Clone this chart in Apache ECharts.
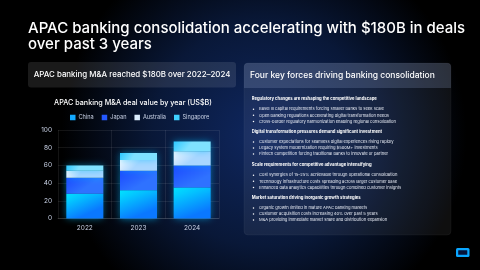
<!DOCTYPE html>
<html><head><meta charset="utf-8">
<script src="https://cdn.jsdelivr.net/npm/echarts@6/dist/echarts.min.js"></script>
<style>html,body{margin:0;padding:0;background:#000}#c{width:480px;height:270px}</style>
</head><body><div id="c"></div>
<script>
var years = ['2022', '2023', '2024'];
var china = [28, 32, 35];
var japan = [18, 22, 25];
var australia = [8, 12, 16];
var singapore = [6, 8, 11];
var seriesNames = ['China', 'Japan', 'Australia', 'Singapore'];
var yTicks = [0, 20, 40, 60, 80, 100];

var titleLines = ['APAC banking consolidation accelerating with $180B in deals', 'over past 3 years'];
var leftHeader = 'APAC banking M&A reached $180B over 2022\u20132024';
var chartTitle = 'APAC banking M&A deal value by year (US$B)';
var rightHeader = 'Four key forces driving banking consolidation';
var sections = [
  'Regulatory changes are reshaping the competitive landscape',
  'Digital transformation pressures demand significant investment',
  'Scale requirements for competitive advantage intensifying',
  'Market saturation driving inorganic growth strategies'
];
var bullets = [
  ['Basel III capital requirements forcing smaller banks to seek scale',
   'Open banking regulations accelerating digital transformation needs',
   'Cross-border regulatory harmonization enabling regional consolidation'],
  ['Customer expectations for seamless digital experiences rising rapidly',
   'Legacy system modernization requiring $500M+ investments',
   'Fintech competition forcing traditional banks to innovate or partner'],
  ['Cost synergies of 15\u201325% achievable through operational consolidation',
   'Technology infrastructure costs spreading across larger customer base',
   'Enhanced data analytics capabilities through combined customer insights'],
  ['Organic growth limited in mature APAC banking markets',
   'Customer acquisition costs increasing 40% over past 5 years',
   'M&A providing immediate market share and distribution expansion']
];

var FF = 'Inter, "Noto Sans", sans-serif';
function lg(c1, c2, x2, y2) {
  return new echarts.graphic.LinearGradient(0, 0, x2, y2, [{offset: 0, color: c1}, {offset: 1, color: c2}]);
}
var colors = [
  lg('#00e8ff', '#0a78ff', 0.3, 1),
  lg('#1a48ff', '#2f72ff', 0.3, 1),
  lg('#f2f9ff', '#a9d6ff', 0.3, 1),
  lg('#2cc8ff', '#7fe2ff', 0.3, 1)
];
var legendColors = ['#12a8ff', '#2458ff', '#dceeff', '#3fd0ff'];
var values = [china, japan, australia, singapore];

var graphics = [];
graphics.push({type: 'text', x: 28, y: 28, style: {text: titleLines[0], fill: '#ffffff', fontSize: 15, fontWeight: 500, fontFamily: FF, verticalAlign: 'middle'}});
graphics.push({type: 'text', x: 28, y: 44, style: {text: titleLines[1], fill: '#ffffff', fontSize: 15, fontWeight: 500, fontFamily: FF, verticalAlign: 'middle'}});
// left header box
graphics.push({type: 'rect', shape: {x: 28, y: 62, width: 208, height: 25.5, r: 3}, style: {fill: 'rgba(255,255,255,0.10)'}});
graphics.push({type: 'text', x: 132, y: 75, style: {text: leftHeader, fill: '#ffffff', fontSize: 7.9, fontWeight: 500, fontFamily: FF, textAlign: 'center', verticalAlign: 'middle'}});
graphics.push({type: 'text', x: 133, y: 103.3, style: {text: chartTitle, fill: '#ffffff', fontSize: 7.2, fontWeight: 500, fontFamily: FF, textAlign: 'center', verticalAlign: 'middle'}});
// right panel
graphics.push({type: 'rect', shape: {x: 244, y: 63, width: 207, height: 172, r: 4}, style: {fill: 'rgba(255,255,255,0.06)', stroke: 'rgba(255,255,255,0.08)', lineWidth: 0.6}});
graphics.push({type: 'rect', shape: {x: 244, y: 63, width: 207, height: 25, r: [4, 4, 0, 0]}, style: {fill: 'rgba(150,170,210,0.22)'}});
graphics.push({type: 'text', x: 250, y: 75.7, style: {text: rightHeader, fill: '#ffffff', fontSize: 8.5, fontWeight: 500, fontFamily: FF, verticalAlign: 'middle'}});
var headY = [99, 131.7, 165, 197.7];
for (var i = 0; i < sections.length; i++) {
  graphics.push({type: 'text', x: 251.7, y: headY[i], style: {text: sections[i], fill: '#ffffff', fontSize: 4.2, fontWeight: 700, fontFamily: FF, verticalAlign: 'middle'}});
  for (var j = 0; j < bullets[i].length; j++) {
    var by = headY[i] + 10.2 + j * 6.1;
    graphics.push({type: 'circle', shape: {cx: 253.5, cy: by, r: 0.75}, style: {fill: '#ffffff'}});
    graphics.push({type: 'text', x: 259, y: by, style: {text: bullets[i][j], fill: '#e8ecf5', fontSize: 4.1, fontWeight: 400, fontFamily: FF, verticalAlign: 'middle'}});
  }
}
// logo
graphics.push({type: 'rect', shape: {x: 456, y: 248, width: 13.5, height: 9, r: 1.5}, style: {fill: '#0aa6ff'}});
graphics.push({type: 'rect', shape: {x: 458.2, y: 250.2, width: 9.1, height: 4.6, r: 0.5}, style: {fill: '#04133a'}});

var series = seriesNames.map(function (n, k) {
  return {
    name: n, type: 'bar', stack: 'total', data: values[k], barWidth: 37,
    itemStyle: {color: colors[k], shadowColor: 'rgba(0,190,255,0.55)', shadowBlur: 7},
    emphasis: {disabled: true}
  };
});

var chart = echarts.init(document.getElementById('c'), null, {renderer: 'canvas'});
chart.setOption({
  animation: false,
  backgroundColor: new echarts.graphic.RadialGradient(0.55, 0.5, 0.75, [
    {offset: 0, color: '#0f2760'},
    {offset: 0.55, color: '#091838'},
    {offset: 1, color: '#000000'}
  ]),
  legend: {
    data: seriesNames.map(function (n, k) { return {name: n, itemStyle: {color: legendColors[k]}}; }),
    top: 114.5, left: 70, padding: 0, itemWidth: 5.5, itemHeight: 5.5, itemGap: 8, icon: 'rect',
    textStyle: {color: '#c9d2e6', fontSize: 5.6, fontFamily: FF, padding: [0, 0, 0, -2]}
  },
  grid: {left: 58, right: 261, top: 130, bottom: 51.5, containLabel: false},
  xAxis: {
    type: 'category', data: years,
    axisLine: {lineStyle: {color: 'rgba(255,255,255,0.12)'}},
    axisTick: {show: false},
    splitLine: {show: true, lineStyle: {color: 'rgba(255,255,255,0.08)'}},
    axisLabel: {color: '#c9d2e6', fontSize: 6.5, fontFamily: FF, margin: 6}
  },
  yAxis: {
    type: 'value', min: 0, max: 100, interval: 20,
    axisLine: {show: false}, axisTick: {show: false},
    splitLine: {lineStyle: {color: 'rgba(255,255,255,0.08)'}},
    axisLabel: {color: '#c9d2e6', fontSize: 6.5, fontFamily: FF, margin: 6,
      formatter: function (v) { return yTicks.indexOf(v) >= 0 ? String(v) : ''; }}
  },
  series: series,
  graphic: graphics
});
</script></body></html>
